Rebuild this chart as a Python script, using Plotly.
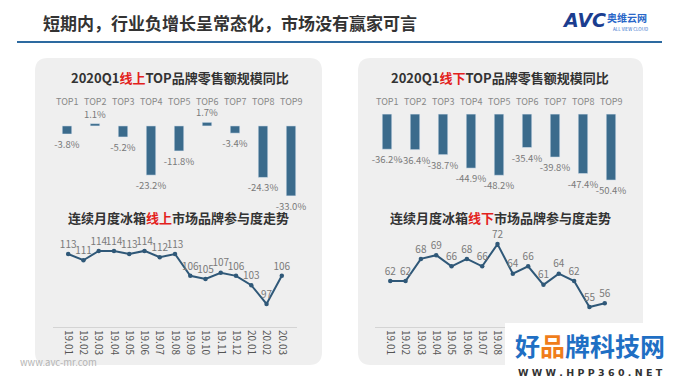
import plotly.graph_objects as go

W, H = 680, 383
FONT = "Noto Sans CJK SC"

# ---------------- data ----------------
brands = ["TOP1", "TOP2", "TOP3", "TOP4", "TOP5", "TOP6", "TOP7", "TOP8", "TOP9"]
online_yoy = [-3.8, 1.1, -5.2, -23.2, -11.8, 1.7, -3.4, -24.3, -33.0]
offline_yoy = [-36.2, -36.4, -38.7, -44.9, -48.2, -35.4, -39.8, -47.4, -50.4]
offline_axis_top = -20  # the offline bar chart's value axis starts at -20%
months = ["19.01", "19.02", "19.03", "19.04", "19.05", "19.06", "19.07", "19.08",
          "19.09", "19.10", "19.11", "19.12", "20.01", "20.02", "20.03"]
online_brands = [113, 111, 114, 114, 113, 114, 112, 113, 106, 105, 107, 106, 103, 97, 106]
offline_brands = [62, 62, 68, 69, 66, 68, 66, 72, 64, 66, 61, 64, 62, 55, 56]


def px(x):
    return x / W


def py(y):
    return 1 - y / H


BAR = "#3b6b8c"
LINE = "#2f5878"
LBL = "#7a7a7a"

fig = go.Figure()

# bars
fig.add_trace(go.Bar(x=brands, y=online_yoy, xaxis="x", yaxis="y", marker_color=BAR,
                     width=0.34, text=[f"{v:.1f}%" for v in online_yoy], textposition="outside",
                     constraintext="none",
                     textfont=dict(size=9.5, color=LBL, family=FONT), cliponaxis=False))
fig.add_trace(go.Bar(x=brands, y=[v - offline_axis_top for v in offline_yoy],
                     base=offline_axis_top, xaxis="x2", yaxis="y2", marker_color=BAR,
                     width=0.34, text=[f"{v:.1f}%" for v in offline_yoy], textposition="outside",
                     constraintext="none",
                     textfont=dict(size=9.5, color=LBL, family=FONT), cliponaxis=False))
# lines
for xs, ys, vals in [("x3", "y3", online_brands), ("x4", "y4", offline_brands)]:
    fig.add_trace(go.Scatter(x=months, y=vals, xaxis=xs, yaxis=ys,
                             mode="lines+markers+text", line=dict(color=LINE, width=2),
                             marker=dict(size=4.5, color=LINE), text=[str(v) for v in vals],
                             textposition="top center",
                             textfont=dict(size=10, color=LBL, family=FONT),
                             cliponaxis=False))

hidden = dict(visible=False, showgrid=False, zeroline=False, fixedrange=True)
cat_axis = dict(showgrid=False, zeroline=False, showline=True, linecolor="#d4d4d4", linewidth=1,
                ticks="", tickangle=90, tickfont=dict(size=10, color="#555", family=FONT))

fig.update_layout(
    width=W, height=H, margin=dict(l=0, r=0, t=0, b=0),
    paper_bgcolor="white", plot_bgcolor="rgba(0,0,0,0)", showlegend=False,
    font=dict(family=FONT),
    xaxis=dict(hidden, domain=[px(53), px(305)], anchor="y"),
    yaxis=dict(hidden, domain=[py(205), py(95)], range=[-37.3, 14.6], anchor="x"),
    xaxis2=dict(hidden, domain=[px(373), px(625)], anchor="y2"),
    yaxis2=dict(hidden, domain=[py(205), py(95)], range=[-61.9, -11.2], anchor="x2"),
    xaxis3=dict(cat_axis, domain=[px(53), px(297)], anchor="y3"),
    yaxis3=dict(hidden, domain=[py(327), py(230)], range=[89.6, 120.7], anchor="x3"),
    xaxis4=dict(cat_axis, domain=[px(375), px(620)], anchor="y4"),
    yaxis4=dict(hidden, domain=[py(327), py(230)], range=[49.6, 75.8], anchor="x4"),
)


def rounded(x0, y0, x1, y1, r):
    X = lambda v: f"{px(v):.5f}"
    Y = lambda v: f"{py(v):.5f}"
    return (f"M {X(x0+r)},{Y(y0)} L {X(x1-r)},{Y(y0)} Q {X(x1)},{Y(y0)} {X(x1)},{Y(y0+r)} "
            f"L {X(x1)},{Y(y1-r)} Q {X(x1)},{Y(y1)} {X(x1-r)},{Y(y1)} "
            f"L {X(x0+r)},{Y(y1)} Q {X(x0)},{Y(y1)} {X(x0)},{Y(y1-r)} "
            f"L {X(x0)},{Y(y0+r)} Q {X(x0)},{Y(y0)} {X(x0+r)},{Y(y0)} Z")


shapes = [
    dict(type="path", xref="paper", yref="paper", path=rounded(35, 58, 322, 365, 13),
         fillcolor="#efefef", line=dict(width=0), layer="below"),
    dict(type="path", xref="paper", yref="paper", path=rounded(358, 58, 643, 365, 13),
         fillcolor="#efefef", line=dict(width=0), layer="below"),
    dict(type="line", xref="paper", yref="paper", x0=px(17), x1=px(662), y0=py(42), y1=py(42),
         line=dict(color="#2d6aa0", width=2)),
    dict(type="rect", xref="paper", yref="paper", x0=px(505), x1=px(680), y0=py(383), y1=py(323),
         fillcolor="white", line=dict(width=0), layer="above"),
]
fig.update_layout(shapes=shapes)

ann = []
RED = "#e3211c"
ann.append(dict(text="<b>短期内，行业负增长呈常态化，市场没有赢家可言</b>", x=px(41), y=py(23),
                xanchor="left", yanchor="middle", font=dict(size=17, color="#333333")))
ann.append(dict(text=f"<b>2020Q1<span style='color:{RED}'>线上</span>TOP品牌零售额规模同比</b>",
                x=px(180), y=py(77), xanchor="center", yanchor="middle",
                font=dict(size=13, color="#333333")))
ann.append(dict(text=f"<b>2020Q1<span style='color:{RED}'>线下</span>TOP品牌零售额规模同比</b>",
                x=px(500), y=py(77), xanchor="center", yanchor="middle",
                font=dict(size=13, color="#333333")))
ann.append(dict(text=f"<b>连续月度冰箱<span style='color:{RED}'>线上</span>市场品牌参与度走势</b>",
                x=px(178), y=py(218), xanchor="center", yanchor="middle",
                font=dict(size=13, color="#333333")))
ann.append(dict(text=f"<b>连续月度冰箱<span style='color:{RED}'>线下</span>市场品牌参与度走势</b>",
                x=px(500), y=py(217), xanchor="center", yanchor="middle",
                font=dict(size=13, color="#333333")))
for xr, b in [("x", bb) for bb in brands] + [("x2", bb) for bb in brands]:
    ann.append(dict(text=b, x=b, xref=xr, y=py(101), yref="paper", xanchor="center",
                    yanchor="middle", font=dict(size=9, color="#888888")))
# logo
ann.append(dict(text="<b><i>AVC</i></b>", x=px(560), y=py(20), xanchor="left", yanchor="middle",
                font=dict(size=19, color="#1b3d8f", family="DejaVu Sans")))
ann.append(dict(text="<b>奥维云网</b>", x=px(605), y=py(17), xanchor="left", yanchor="middle",
                font=dict(size=10, color="#2a67c8")))
ann.append(dict(text="ALL VIEW CLOUD", x=px(611), y=py(29), xanchor="left", yanchor="middle",
                font=dict(size=4.5, color="#2a67c8")))
# footer
ann.append(dict(text="www.avc-mr.com", x=px(18), y=py(362), xanchor="left", yanchor="middle",
                font=dict(size=9.5, color="#b5b5b5")))
ann.append(dict(text="<b><span style='color:#1f6fc4'>好</span><span style='color:#f07d1a'>品</span>"
                     "<span style='color:#1f6fc4'>牌科技网</span></b>",
                x=px(590), y=py(345), xanchor="center", yanchor="middle",
                font=dict(size=25)))
ann.append(dict(text="<b>W W W . H P P 3 6 0 . N E T</b>", x=px(590), y=py(372), xanchor="center",
                yanchor="middle", font=dict(size=9.5, color="#333333", family="DejaVu Sans")))
for a in ann:
    a.setdefault("xref", "paper")
    a.setdefault("yref", "paper")
    a["showarrow"] = False
fig.update_layout(annotations=ann)

fig.write_html("out.html", config={"displayModeBar": False},
               post_script="document.body.style.margin='0';")
